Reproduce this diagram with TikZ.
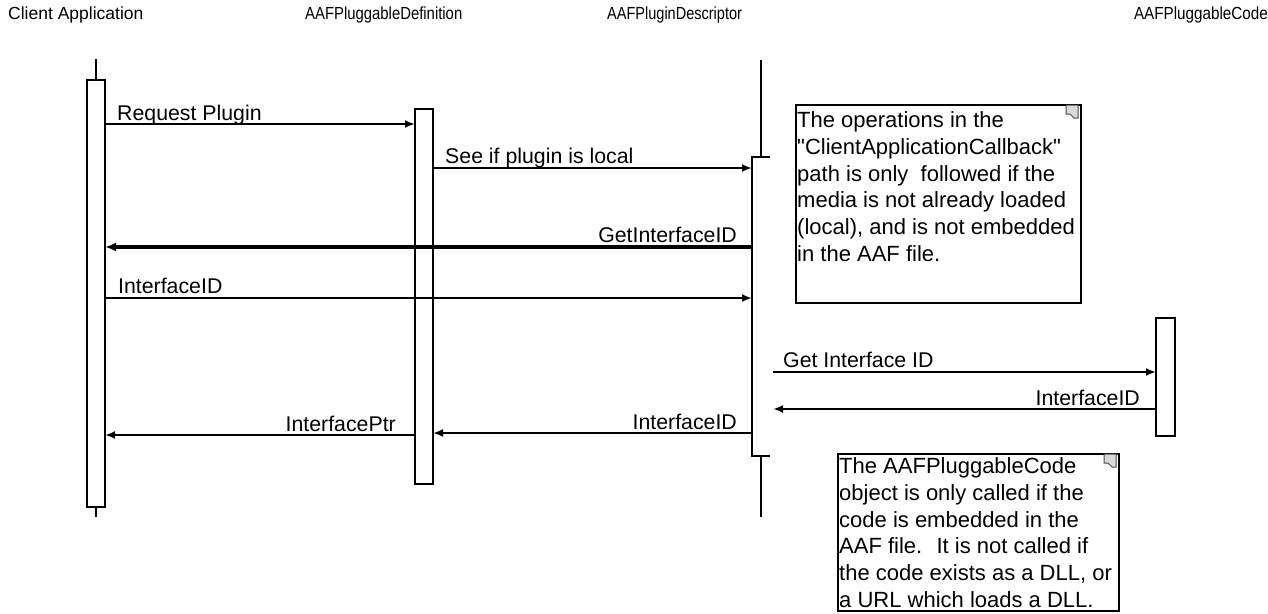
\documentclass[tikz,border=0pt]{standalone}
\usepackage{fontspec}
\setmainfont{Liberation Sans}[Ligatures=TeXOff]
\usetikzlibrary{arrows.meta,calc}
\begin{document}
\begin{tikzpicture}[x=1pt,y=-1pt,
  act/.style={draw, line width=1.5pt, fill=white, minimum width=18pt, inner sep=0, outer sep=0},
  life/.style={line width=2pt},
  msg/.style={line width=2pt, -{Latex[length=10pt,width=8pt]}},
  lbl/.style={inner sep=0, font=\fontsize{21.3}{25}\selectfont},
  head/.style={inner sep=0, font=\fontsize{17.5}{20}\selectfont},
  note/.style={draw, line width=2pt, inner sep=0, anchor=north west},
  notetext/.style={inner sep=0, anchor=north west, align=left, font=\fontsize{22}{26.7}\selectfont},
  fold/.style={draw=black!70, fill=black!15, line width=1pt}]
\useasboundingbox (0,0) rectangle (1268,613);

% object headers
\node[head, anchor=base west] (hca) at (8,19) {Client Application};
\node[head, anchor=base west] (hpd) at (305,19) {\scalebox{0.85}[1]{AAFPluggableDefinition}};
\node[head, anchor=base west] (hdesc) at (607,19) {\scalebox{0.83}[1]{AAFPluginDescriptor}};
\node[head, anchor=base east] (hcode) at (1268,19) {\scalebox{0.87}[1]{AAFPluggableCode}};

% activation bars
\node[act, minimum height=427pt] (cl) at (96,293.5) {};
\node[act, minimum height=375pt] (def) at (424,296.5) {};
\node[act, draw=none, fill=none, minimum height=299pt] (desc) at (761,306.5) {};
\node[act, minimum width=19pt, minimum height=118pt] (code) at (1165.5,377) {};

% lifeline stubs
\coordinate (clTop) at (96,59);
\coordinate (clBot) at (96,517);
\coordinate (descTop) at (761,60);
\coordinate (descBot) at (761,517);
\draw[life] (clTop) -- (cl.north);
\draw[life] (cl.south) -- (clBot);
\draw[life] (descTop) -- (desc.north);
\draw[life] (desc.south) -- (descBot);
\draw[line width=1.5pt] (desc.north east) -- (desc.north west) -- (desc.south west) -- (desc.south east);

% messages
\draw[msg] (cl.east |- 0,124) -- (def.west |- 0,124);
\node[lbl, anchor=base west] (m1) at (117,120) {Request Plugin};

\draw[msg] (def.east |- 0,168) -- (desc.west |- 0,168);
\node[lbl, anchor=base west] (m2) at (445,163) {See if plugin is local};

\draw[line width=3.5pt, -{Latex[length=11pt,width=9pt]}] (desc.west |- 0,247) -- (cl.east |- 0,247);
\node[lbl, anchor=base east] (m3) at (737,242) {GetInterfaceID};

\draw[msg] (cl.east |- 0,298) -- (desc.west |- 0,298);
\node[lbl, anchor=base west] (m4) at (118,293) {InterfaceID};

\draw[msg] ([xshift=3pt]desc.east |- 0,372) -- (code.west |- 0,372);
\node[lbl, anchor=base west] (m5) at (783,367) {Get Interface ID};

\draw[msg] (code.west |- 0,409) -- ([xshift=3pt]desc.east |- 0,409);
\node[lbl, anchor=base east] (m6) at (1140,405) {InterfaceID};

\draw[msg] (desc.west |- 0,433) -- (def.east |- 0,433);
\node[lbl, anchor=base east] (m7) at (737,429) {InterfaceID};

\draw[msg] (def.west |- 0,435) -- (cl.east |- 0,435);
\node[lbl, anchor=base east] (m8) at (396,431) {InterfacePtr};

% notes
\node[note, minimum width=285pt, minimum height=198pt] (n1) at (795,104) {};
\draw[fold] ([xshift=-16pt,yshift=-1pt]n1.north east) -- ++(12,0) -- ++(0,13) -- ++(-4,0) -- ++(-4,-4) -- ++(-4,0) -- cycle;
\node[notetext] (n1t) at (797,111.5) {The operations in the\\
"ClientApplicationCallback"\\
path is only~ followed if the\\
media is not already loaded\\
(local), and is not embedded\\
in the AAF file.};

\node[note, minimum width=281pt, minimum height=157pt] (n2) at (837,453) {};
\draw[fold] ([xshift=-16pt,yshift=-1pt]n2.north east) -- ++(12,0) -- ++(0,13) -- ++(-4,0) -- ++(-4,-4) -- ++(-4,0) -- cycle;
\node[notetext] (n2t) at (839,457.5) {The AAFPluggableCode\\
object is only called if the\\
code is embedded in the\\
AAF file.~ It is not called if\\
the code exists as a DLL, or\\
a URL which loads a DLL.};
\end{tikzpicture}
\end{document}
